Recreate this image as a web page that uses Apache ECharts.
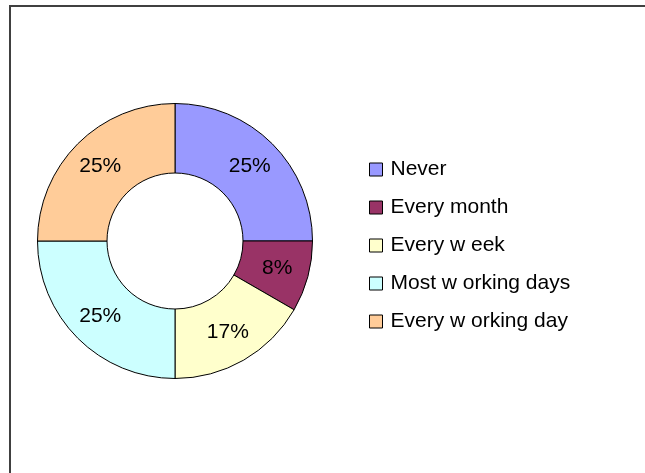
<!DOCTYPE html>
<html>
<head>
<meta charset="utf-8">
<script src="https://cdn.jsdelivr.net/npm/echarts@6/dist/echarts.min.js"></script>
<style>
  html, body { margin: 0; padding: 0; background: #fff; }
  #chart { width: 645px; height: 473px; }
</style>
</head>
<body>
<div id="chart"></div>
<script>
// How often respondents do it (counts out of 12)
const categories = ['Never', 'Every month', 'Every w eek', 'Most w orking days', 'Every w orking day'];
const counts = [3, 1, 2, 3, 3];
const colors = ['#9999FF', '#993366', '#FFFFCC', '#CCFFFF', '#FFCC99'];

const chart = echarts.init(document.getElementById('chart'), null, { renderer: 'canvas' });

const total = counts.reduce((a, b) => a + b, 0);
const font = 'Liberation Sans, Arial, sans-serif';

chart.setOption({
  animation: false,
  backgroundColor: '#ffffff',
  textStyle: { fontFamily: font },
  graphic: [{
    type: 'rect',
    shape: { x: 10, y: 6, width: 700, height: 520 },
    style: { fill: 'none', stroke: '#404040', lineWidth: 2 },
    z: 100
  }],
  legend: {
    orient: 'vertical',
    left: 364,
    top: 154,
    itemWidth: 13,
    itemHeight: 13,
    itemGap: 17,
    icon: 'rect',
    itemStyle: { borderColor: '#000', borderWidth: 1 },
    textStyle: { fontSize: 21, color: '#000', fontFamily: font, padding: [0, 0, 0, 3], lineHeight: 21 },
    data: categories
  },
  series: [{
    type: 'pie',
    center: [175, 241],
    radius: [68, 137.5],
    startAngle: 90,
    clockwise: true,
    avoidLabelOverlap: false,
    itemStyle: { borderColor: '#000', borderWidth: 1 },
    label: {
      show: true,
      position: 'inside',
      color: '#000',
      fontSize: 21,
      fontFamily: font,
      formatter: p => Math.round(p.value / total * 100) + '%'
    },
    labelLine: { show: false },
    emphasis: { disabled: true },
    data: categories.map((name, i) => ({ name, value: counts[i], itemStyle: { color: colors[i] } }))
  }]
});
</script>
</body>
</html>
